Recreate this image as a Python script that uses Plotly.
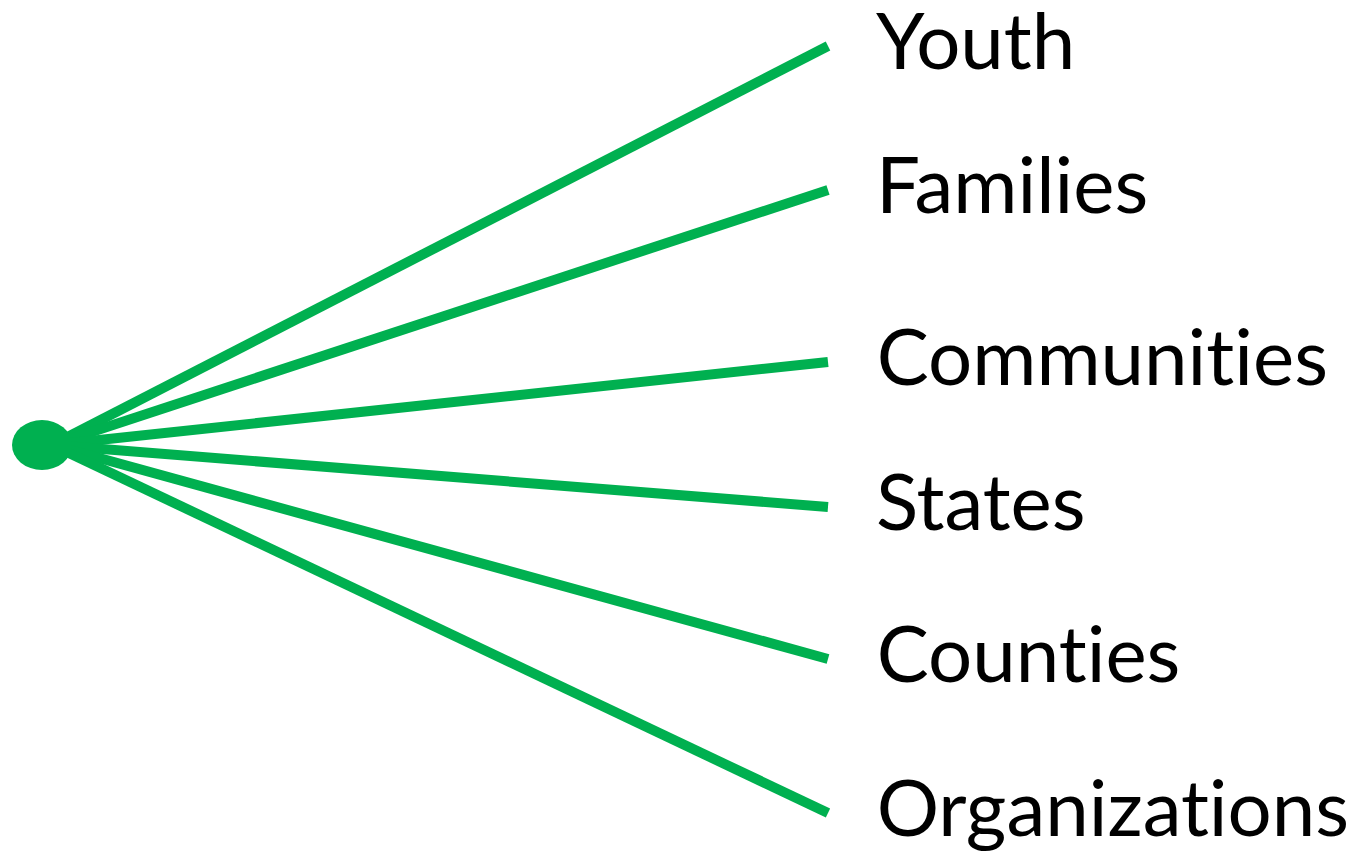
import plotly.graph_objects as go

# Data
categories = ["Youth", "Families", "Communities", "States", "Counties", "Organizations"]
end_y = [46, 190, 362, 507, 659, 813]
end_x = [828, 828, 828, 828, 828, 828]
hub = [42, 445]

GREEN = "#00B050"
W, H = 1351, 854

fig = go.Figure()
for cat, x1, y1 in zip(categories, end_x, end_y):
    fig.add_trace(go.Scatter(
        x=[hub[0] + 10, x1], y=[hub[1], y1], mode="lines",
        line=dict(color=GREEN, width=10), hoverinfo="skip", showlegend=False,
    ))
    fig.add_annotation(
        x=874, y=y1, xref="x", yref="y", text=cat, showarrow=False,
        xanchor="left", yanchor="middle", yshift=7,
        font=dict(family="Lato", size=78, color="#000000"),
    )

fig.add_shape(type="circle", xref="x", yref="y",
              x0=hub[0] - 30, x1=hub[0] + 30, y0=hub[1] - 25, y1=hub[1] + 25,
              fillcolor=GREEN, line=dict(width=0), layer="above")

fig.update_layout(
    width=W, height=H, margin=dict(l=0, r=0, t=0, b=0),
    paper_bgcolor="white", plot_bgcolor="white",
    xaxis=dict(range=[0, W], visible=False, fixedrange=True),
    yaxis=dict(range=[H, 0], visible=False, fixedrange=True),
)
post = ("document.body.style.margin='0';document.body.style.overflow='hidden';"
        "var s=document.createElement('style');"
        "s.textContent='text{font-variant-ligatures:none !important;font-feature-settings:\"liga\" 0,\"clig\" 0 !important;}';"
        "document.head.appendChild(s);")
fig.write_html("out.html", post_script=post, config={"displayModeBar": False})
